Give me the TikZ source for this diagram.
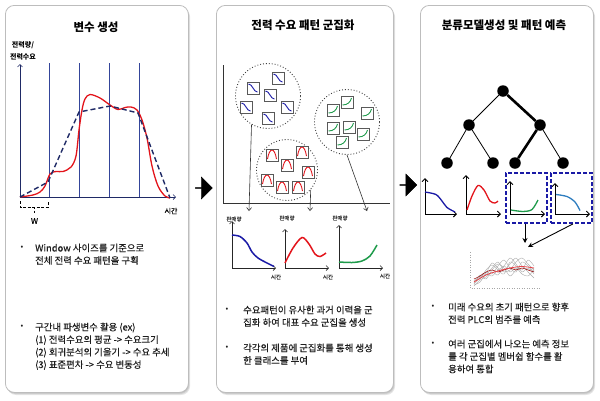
\documentclass[tikz,border=0pt]{standalone}
\usepackage{fontspec}
\setmainfont{Noto Sans CJK KR}
\newfontfamily\bodyf{Noto Sans CJK KR}[FakeBold=0.25]
\usetikzlibrary{arrows.meta,shapes.arrows,calc,shadows}
\definecolor{navy}{HTML}{34459A}
\definecolor{dnavy}{HTML}{1F2A66}
\definecolor{dred}{HTML}{E3141B}
\definecolor{dblue}{HTML}{1A1AA6}
\definecolor{dgreen}{HTML}{1E9B4A}
\definecolor{sblue}{HTML}{2E7DBF}
\definecolor{txt}{HTML}{1E1E1E}
\definecolor{frame}{HTML}{BDBDBD}
\tikzset{
 panel/.style={draw=frame, fill=white, rounded corners=9pt, line width=0.8pt, anchor=north west, inner sep=0pt},
 title/.style={font=\fontsize{11.5}{13}\selectfont\bfseries, text=black, inner sep=0pt},
 body/.style={font=\bodyf\fontsize{9.4}{12.5}\selectfont, text=txt, align=left, anchor=north west, inner sep=0pt},
 bul/.style={font=\fontsize{8}{10}\selectfont, text=txt, inner sep=0pt},
 small/.style={font=\bodyf\fontsize{5.5}{6}\selectfont, text=black!80, inner sep=0pt},
 ax/.style={line width=0.7pt, draw=black!85, -{Straight Barb[length=2.5pt,width=5pt]}},
 axb/.style={line width=0.9pt, draw=black, -{Straight Barb[length=3pt,width=6pt]}},
 cluster/.style={circle, draw=black!75, dotted, line width=0.9pt, inner sep=0pt},
 thinarrow/.style={line width=0.6pt, draw=black!80, -{Straight Barb[length=3pt,width=5pt]}},
 minibox/.style={draw=black!65, fill=white, line width=0.6pt, minimum size=12pt, inner sep=0pt,
   drop shadow={opacity=0.3, shadow xshift=0.8pt, shadow yshift=-0.8pt}},
 bbox/.style={minibox, path picture={\draw[dblue, line width=0.9pt]
   ([shift={(-4.5,-4)}]path picture bounding box.center) .. controls +(4,0) and +(-4,0) .. ++(9,8);}},
 rbox/.style={minibox, path picture={\draw[dred, line width=0.9pt]
   ([shift={(-4.5,4)}]path picture bounding box.center) .. controls +(2,-12) and +(-2,-12) .. ++(9,0);}},
 gbox/.style={minibox, path picture={\draw[dgreen, line width=0.9pt]
   ([shift={(-4.5,3)}]path picture bounding box.center) .. controls +(5,0) and +(-1,4) .. ++(9,-7);}},
 bigarrow/.style={single arrow, fill=black, draw=black, minimum height=17pt, minimum width=22pt,
   single arrow head extend=4pt, inner sep=0pt},
 tn/.style={circle, fill=black, minimum size=11.5pt, inner sep=0pt},
 thin/.style={line width=0.8pt, draw=black},
 thick/.style={line width=2.6pt, draw=black},
 dbox/.style={draw=dblue, line width=1.8pt, dash pattern=on 4pt off 2pt, inner sep=0pt},
 fatarrow/.style={line width=0.9pt, draw=black, -{Stealth[length=5pt,width=5pt]}},
 gl/.style={gray!65, line width=0.4pt},
}
\begin{document}
\begin{tikzpicture}[x=1pt,y=-1pt]
\useasboundingbox (0,0) rectangle (600,400);
% panel shadows
\foreach \s in {1,2,3}{
 \fill[black, opacity=0.10, rounded corners=9pt] (5+\s*0.7,5+\s) rectangle (188+\s*0.7,392+\s);
 \fill[black, opacity=0.10, rounded corners=9pt] (216+\s*0.7,5+\s) rectangle (393+\s*0.7,392+\s);
 \fill[black, opacity=0.10, rounded corners=9pt] (420+\s*0.7,5+\s) rectangle (593+\s*0.7,392+\s);
}
\node[panel, minimum width=183pt, minimum height=387pt] (p1) at (5,5) {};
\node[panel, minimum width=177pt, minimum height=387pt] (p2) at (216,5) {};
\node[panel, minimum width=173pt, minimum height=387pt] (p3) at (420,5) {};

% big arrows
\node[bigarrow] (a1) at (203.5,188) {};
\node[bigarrow] (a2) at (408,185) {};

% ================= Panel 1 =================
\node[title] (t1) at (96,27) {변수 생성};
\node[font=\fontsize{7}{11.5}\selectfont\bfseries, align=center, inner sep=0pt] (ylab) at (23,51) {전력량/\\전력수요};
\foreach \x in {49,79,109,139}{ \draw[navy, line width=0.75pt] (\x,63) -- (\x,197); }
\draw[ax, draw=dnavy] (20,197) -- (20,64);
\draw[ax, draw=dnavy] (20,197) -- (176,197);
\node[font=\bodyf\fontsize{7}{8}\selectfont, inner sep=0pt] (sx1) at (171,211) {시간};
\draw[dred, line width=1.3pt] plot[smooth, tension=0.55] coordinates {
 (20,197) (33,195) (40,192) (45,186) (50,174) (56,171.5) (63,171.5) (71,167) (76,156) (79,130)
 (82,110) (85,99) (90,94.5) (100,98) (110,105) (118,109.5) (125,107.5) (131,107) (137,110)
 (142,120) (147,138) (152,166) (158,186) (165,196) (170,198)};
\draw[dnavy, line width=1.4pt, dash pattern=on 5pt off 3pt] (20,197) -- (48,182) -- (79,112) -- (110,106) -- (138,113) -- (170,198);
\draw[black, line width=1pt, dash pattern=on 3pt off 1.5pt] (20,201) -- (20,207) -- (48,207) -- (48,201);
\draw[black, line width=1pt, dash pattern=on 2pt off 1.5pt] (34.5,207) -- (34.5,213);
\node[font=\bodyf\fontsize{8}{9}\selectfont, inner sep=0pt] (w) at (34.5,221) {W};
\node[bul] (d11) at (22,248) {•};
\node[body] (b11) at (35,243.5) {Window 사이즈를 기준으로\\전체 전력 수요 패턴을 구획};
\node[bul] (d12) at (22,327) {•};
\node[body] (b12) at (35,322.5) {구간내 파생변수 활용 (ex)\\(1) 전력수요의 평균 -> 수요크기\\(2) 회귀분석의 기울기 -> 수요 추세\\(3) 표준편차 -> 수요 변동성};

% ================= Panel 2 =================
\node[title] (t2) at (303,25) {전력 수요 패턴 군집화};
\draw[line width=0.8pt, black!80] (223,65) -- (223,203) -- (390,203);
\node[cluster, minimum size=65pt] (cb) at (268,96) {};
\node[cluster, minimum size=61pt] (cr) at (287,170) {};
\node[cluster, minimum size=65pt] (cg) at (347,122) {};
% blue boxes
\node[bbox] (bb1) at (253,88) {};
\node[bbox] (bb2) at (278,78) {};
\node[bbox] (bb3) at (270,95) {};
\node[bbox] (bb4) at (287,107) {};
\node[bbox] (bb5) at (246,107) {};
\node[bbox] (bb6) at (268,118) {};
% red boxes
\node[rbox] (rb1) at (272,155) {};
\node[rbox] (rb2) at (302,152) {};
\node[rbox] (rb3) at (287,165) {};
\node[rbox] (rb4) at (308,172) {};
\node[rbox] (rb5) at (267,180) {};
\node[rbox] (rb6) at (282,187) {};
\node[rbox] (rb7) at (298,187) {};
% green boxes
\node[gbox] (gb1) at (347,102) {};
\node[gbox] (gb2) at (333,110) {};
\node[gbox] (gb3) at (367,113) {};
\node[gbox] (gb4) at (349,127) {};
\node[gbox] (gb5) at (333,128) {};
\node[gbox] (gb6) at (363,134) {};
\node[gbox] (gb7) at (342,142) {};
% arrows to charts
\coordinate (ea) at (249,211);
\coordinate (eb) at (310,211);
\coordinate (ec) at (367,211);
\draw[thinarrow] (cb.240) -- (ea);
\draw[thinarrow] (cr.320) -- (eb);
\draw[thinarrow] (cg.270) -- (ec);
% mini charts
\draw[ax] (232,268) -- (232,221);
\draw[ax] (232,268) -- (276,268);
\draw[dblue, line width=1.5pt] plot[smooth] coordinates {(232,235) (240,236.5) (247,243) (252,252) (258,258) (267,263) (274,266.5)};
\node[small] (la1) at (234,219) {판매량};
\node[small] (sa1) at (276,277) {시간};
\draw[ax] (285,268) -- (285,229);
\draw[ax] (285,268) -- (329,268);
\draw[dred, line width=1.5pt] plot[smooth] coordinates {(285,263) (293,248) (302,237.5) (309,244) (315,254) (320,256.5) (326,253)};
\node[small] (la2) at (287,218) {판매량};
\node[small] (sa2) at (328,277) {시간};
\draw[ax] (339,268) -- (339,225);
\draw[ax] (339,268) -- (383,268);
\draw[dgreen, line width=1.5pt] plot[smooth] coordinates {(339,262) (352,262.5) (362,261) (370,256) (377,245)};
\node[small] (la3) at (340,218) {판매량};
\node[small] (sa3) at (385,276) {시간};
\node[bul] (d21) at (227,310) {•};
\node[body] (b21) at (243,305.5) {수요패턴이 유사한 과거 이력을 군\\집화 하여 대표 수요 군집을 생성};
\node[bul] (d22) at (227,348) {•};
\node[body] (b22) at (243,343.5) {각각의 제품에 군집화를 통해 생성\\한 클래스를 부여};

% ================= Panel 3 =================
\node[title] (t3) at (504,25) {분류모델생성 및 패턴 예측};
\node[tn] (r) at (503,91) {};
\node[tn] (l) at (469,125) {};
\node[tn] (rr) at (540,125) {};
\node[tn] (l1) at (447,163) {};
\node[tn] (l2) at (493,163) {};
\node[tn] (r1) at (515,163) {};
\node[tn] (r2) at (563,163) {};
\draw[thin] (r) -- (l);
\draw[thin] (l) -- (l1);
\draw[thin] (l) -- (l2);
\draw[thin] (rr) -- (r2);
\draw[thick] (r) -- (rr);
\draw[thick] (rr) -- (r1);
% charts
\draw[axb] (425,214) -- (425,178);
\draw[axb] (425,214) -- (457,214);
\draw[dblue, line width=1.3pt] plot[smooth] coordinates {(425,192) (436,194.5) (442,201) (447,207.5) (455,212)};
\draw[axb] (466,214) -- (466,175);
\draw[axb] (466,214) -- (501,214);
\draw[dred, line width=1.3pt] plot[smooth] coordinates {(467,210) (472,196) (478,185.5) (484,190) (490,201) (495,203) (498,201)};
\draw[axb] (510,214) -- (510,181);
\draw[axb] (510,214) -- (545,214);
\draw[dgreen, line width=1.3pt] plot[smooth] coordinates {(511,210) (523,211.5) (532,209.5) (538,200)};
\draw[axb] (555,214) -- (555,183);
\draw[axb] (555,214) -- (590,214);
\draw[sblue, line width=1.3pt] plot[smooth] coordinates {(556,194.5) (567,196.5) (575,202) (580,210.5)};
\node[dbox, minimum width=41pt, minimum height=50pt] (db3) at (526.5,198) {};
\node[dbox, minimum width=41pt, minimum height=50pt] (db4) at (571.5,198) {};
\coordinate (e3) at (525,243);
\coordinate (e4) at (528,247);
\draw[fatarrow] (db3.south -| e3) -- (e3);
\draw[fatarrow] ([xshift=1.5pt]db4.south) -- (e4);
% small chart
\draw[gray!70, line width=0.5pt, dotted] (470,252) -- (470,288) -- (540,288);
\foreach \a/\b/\c/\d/\e/\f/\g/\h/\i/\j/\k in {
 284/278/275/268/262/270/264/258/266/270/268,
 282/276/272/274/266/260/268/272/262/266/272,
 280/279/270/265/270/274/262/266/270/260/266,
 286/280/277/272/275/266/272/268/274/276/270,
 283/275/279/270/264/268/276/270/266/272/278,
 285/282/274/276/270/266/258/264/272/268/274,
 281/277/273/263/268/272/270/262/258/264/270}{
 \draw[gl] plot[smooth] coordinates {(474,\a) (480,\b) (486,\c) (492,\d) (498,\e) (504,\f) (510,\g) (516,\h) (522,\i) (528,\j) (534,\k)};
}
\draw[red!60!black, line width=0.5pt] plot[smooth] coordinates {(474,279) (480,276) (486,272) (492,270) (498,272) (504,270) (510,268) (516,270) (522,268) (528,270) (534,272)};
\draw[dred!80, line width=0.8pt] plot[smooth] coordinates {(474,282) (486,275) (498,271) (510,268) (522,266.5) (534,268)};
\node[bul] (d31) at (433,307) {•};
\node[body] (b31) at (448,302.5) {미래 수요의 초기 패턴으로 향후\\전력 PLC의 범주를 예측};
\node[bul] (d32) at (433,344) {•};
\node[body] (b32) at (448,339.5) {여러 군집에서 나오는 예측 정보\\를 각 군집별 멤버쉽 함수를 활\\용하여 통합};
\end{tikzpicture}
\end{document}
